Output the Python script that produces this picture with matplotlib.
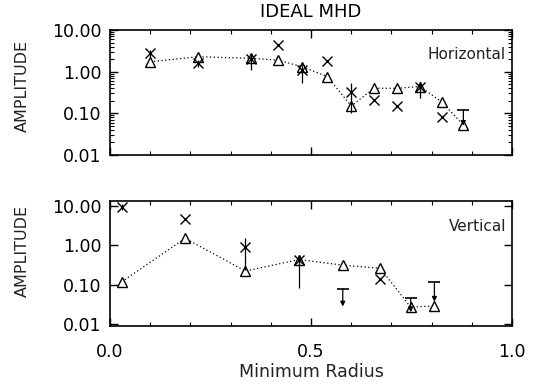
import numpy as np
import matplotlib
matplotlib.use('Agg')
import matplotlib.pyplot as plt
from matplotlib.ticker import FixedLocator, MultipleLocator, LogLocator, NullFormatter

# horizontal component
h_r = [0.10, 0.22, 0.35, 0.417, 0.477, 0.541, 0.60, 0.657, 0.715, 0.77, 0.825, 0.879]
h_tri = [1.73, 2.29, 2.09, 1.9, 1.32, 0.76, 0.15, 0.40, 0.40, 0.44, 0.19, 0.052]
h_xr = [0.10, 0.22, 0.35, 0.417, 0.477, 0.541, 0.60, 0.657, 0.715, 0.77, 0.825]
h_x = [2.75, 1.58, 2.0, 4.4, 1.1, 1.83, 0.33, 0.21, 0.15, 0.44, 0.08]
h_err_r = [0.10, 0.22, 0.35, 0.477, 0.60, 0.77]
h_err_lo = [2.2, 1.3, 1.1, 0.54, 0.10, 0.23]
h_err_hi = [3.4, 1.9, 2.6, 1.5, 0.54, 0.55]
h_lim_r = [0.879]
h_lim_cap = [0.12]
h_lim_tip = [0.05]

# vertical component
v_r = [0.029, 0.187, 0.337, 0.47, 0.58, 0.672, 0.748, 0.807]
v_tri = [0.118, 1.48, 0.22, 0.43, 0.31, 0.26, 0.027, 0.029]
v_xr = [0.029, 0.187, 0.337, 0.47, 0.672]
v_x = [9.0, 4.5, 0.9, 0.43, 0.135]
v_err_r = [0.029, 0.337, 0.47]
v_err_lo = [7.5, 0.23, 0.08]
v_err_hi = [11.0, 1.5, 0.55]
v_lim_r = [0.579, 0.748, 0.807]
v_lim_cap = [0.076, 0.046, 0.114]
v_lim_tip = [0.028, 0.02, 0.037]

yticks = [0.01, 0.1, 1.0, 10.0]
ytick_labels = ['0.01', '0.10', '1.00', '10.00']
xticks = [0.0, 0.5, 1.0]
xtick_labels = ['0.0', '0.5', '1.0']

plt.rcParams['font.family'] = ['DejaVu Sans']

fig = plt.figure(figsize=(5.35, 3.9), dpi=100)
ax1 = fig.add_axes([0.2056, 0.6026, 0.7514, 0.3205])
ax2 = fig.add_axes([0.2056, 0.1641, 0.7514, 0.3205])


def draw_panel(ax, r, tri, xr, xv, er, elo, ehi, lr, lcap, ltip, ylim, label, label_y):
    ax.set_yscale('log')
    ax.plot(r, tri, linestyle=(0, (1, 2)), color='k', lw=0.9,
            marker='^', markersize=7.5, markerfacecolor='white',
            markeredgecolor='k', markeredgewidth=1.0)
    ax.plot(xr, xv, linestyle='none', marker='x', markersize=6.5,
            color='k', markeredgewidth=1.0)
    ax.vlines(er, elo, ehi, color='k', lw=0.9)
    for xx, c, t in zip(lr, lcap, ltip):
        ax.plot([xx], [c], marker='_', markersize=8, color='k', markeredgewidth=1.2)
        ax.annotate('', xy=(xx, t), xytext=(xx, c),
                    arrowprops=dict(arrowstyle='-|>', lw=0.9, color='k',
                                    mutation_scale=7, shrinkA=0, shrinkB=0))
    ax.set_xlim(0, 1)
    ax.set_ylim(*ylim)
    ax.yaxis.set_major_locator(FixedLocator(yticks))
    ax.set_yticklabels(ytick_labels)
    ax.yaxis.set_minor_locator(LogLocator(base=10, subs=np.arange(2, 10)))
    ax.yaxis.set_minor_formatter(NullFormatter())
    ax.xaxis.set_major_locator(FixedLocator(xticks))
    ax.xaxis.set_minor_locator(MultipleLocator(0.1))
    ax.tick_params(which='both', direction='in', top=True, right=True,
                   labelsize=12.5, color='k')
    ax.tick_params(which='major', length=6, width=1)
    ax.tick_params(which='minor', length=3, width=0.8)
    ax.tick_params(axis='y', pad=6)
    for s in ax.spines.values():
        s.set_linewidth(1.2)
    ax.set_ylabel('AMPLITUDE', fontsize=11.5, color='#222222')
    ax.yaxis.set_label_coords(-0.2, label_y)
    ax.text(0.985, 0.8, label, transform=ax.transAxes, ha='right', va='center',
            fontsize=11, color='#222222')


draw_panel(ax1, h_r, h_tri, h_xr, h_x, h_err_r, h_err_lo, h_err_hi,
           h_lim_r, h_lim_cap, h_lim_tip, (0.01, 10.0), 'Horizontal', 0.55)
draw_panel(ax2, v_r, v_tri, v_xr, v_x, v_err_r, v_err_lo, v_err_hi,
           v_lim_r, v_lim_cap, v_lim_tip, (0.009, 13.0), 'Vertical', 0.6)

ax1.tick_params(labelbottom=False)
ax2.set_xticklabels(xtick_labels)
ax2.tick_params(axis='x', pad=12)
ax2.set_xlabel('Minimum Radius', fontsize=12.5, color='#222222', labelpad=2)

fig.text(0.58, 0.969, 'IDEAL MHD', ha='center', va='center', fontsize=13)

fig.savefig('out.png', dpi=100)
